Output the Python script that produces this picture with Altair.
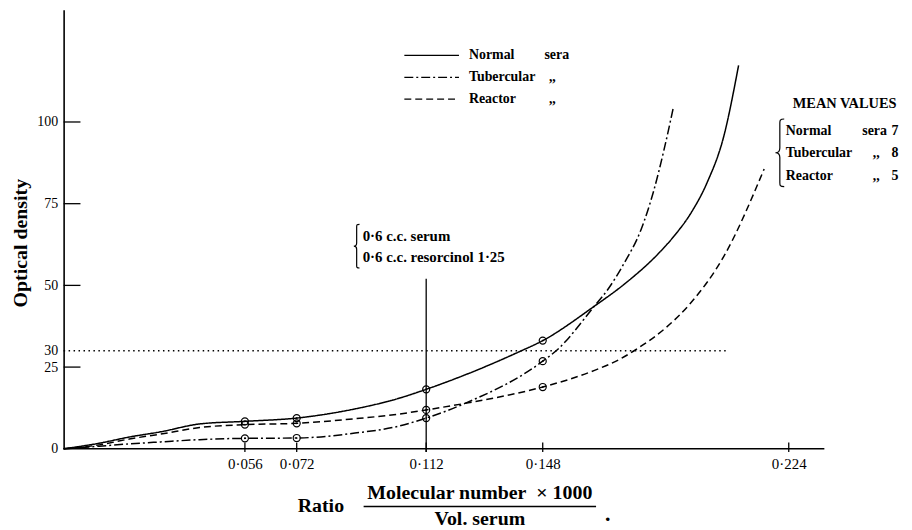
import altair as alt
import pandas as pd

FONT = "Liberation Serif"

# ---- data ----
series_names = ["Normal", "Tubercular", "Reactor"]

normal_x = [0, 0.011, 0.0203, 0.03, 0.042, 0.056, 0.072, 0.09, 0.1034, 0.112, 0.1403, 0.148,
            0.1639, 0.1731, 0.1834, 0.1885, 0.1937, 0.1988, 0.2039, 0.2085]
normal_y = [0, 1.7, 3.6, 5.2, 7.6, 8.4, 9.4, 12.2, 15.4, 18.2, 29.5, 33.1,
            43.6, 50.3, 59.4, 65.0, 72.0, 81.5, 95.5, 117.3]

tub_x = [0, 0.011, 0.0203, 0.03, 0.042, 0.056, 0.072, 0.09, 0.1034, 0.112, 0.124, 0.148,
         0.1526, 0.1639, 0.168, 0.1731, 0.1783, 0.1823, 0.1854, 0.1883]
tub_y = [0, 0.8, 1.5, 2.1, 2.8, 3.2, 3.3, 4.8, 6.9, 9.4, 13.9, 26.8,
         30.4, 43.6, 48.6, 56.7, 66.9, 79, 91.2, 104.2]

reac_x = [0, 0.011, 0.0203, 0.03, 0.042, 0.056, 0.072, 0.09, 0.1034, 0.112, 0.124, 0.148,
          0.156, 0.164, 0.172, 0.177, 0.186, 0.1937, 0.2039, 0.2164]
reac_y = [0, 1.2, 3.0, 4.5, 6.5, 7.4, 7.8, 9.2, 10.6, 11.9, 13.9, 18.9,
          21.2, 24.0, 27.5, 30.5, 37.0, 44.6, 58.8, 85.6]

marker_x = [0.056, 0.072, 0.112, 0.148]
normal_m = [8.4, 9.4, 18.2, 33.1]
tub_m = [3.2, 3.3, 9.4, 26.8]
reac_m = [7.4, 7.8, 11.9, 18.9]

x_ticks = [0.056, 0.072, 0.112, 0.148, 0.224]
y_labels = [0, 25, 30, 50, 75, 100]
y_ticks = [25, 50, 75, 100]
ref_level = 30
ref_level_end = 0.205
x_axis_end = 0.235
vline_x = 0.112
vline_top = 52

mean_values = ["7", "8", "5"]

# ---- tables ----
rows = []
for name, xs_, ys_ in [("Normal", normal_x, normal_y), ("Tubercular", tub_x, tub_y),
                       ("Reactor", reac_x, reac_y)]:
    rows += [{"series": name, "x": a, "y": b} for a, b in zip(xs_, ys_)]
curves = pd.DataFrame(rows)

mrows = []
for name, ms in [("Normal", normal_m), ("Tubercular", tub_m), ("Reactor", reac_m)]:
    mrows += [{"series": name, "x": a, "y": b} for a, b in zip(marker_x, ms)]
markers = pd.DataFrame(mrows)

dash_range = [[1, 0], [9, 3, 2, 3], [7, 4]]

xs = alt.Scale(domain=[0, 0.255], nice=False, zero=False)
ys = alt.Scale(domain=[0, 134.35], nice=False, zero=False)

x_axis = alt.Axis(values=x_ticks, labelExpr="replace(format(datum.value, '.3f'), '.', '·')",
                  ticks=False, domain=False, grid=False, labelFont=FONT, labelFontSize=15,
                  labelColor="black", labelPadding=8, title=None)
y_axis = alt.Axis(values=y_labels, ticks=False, domain=True, domainColor="black",
                  domainWidth=1.6, grid=False, labelFont=FONT, labelFontSize=14,
                  labelColor="black", labelPadding=6, labelOverlap=False, title=None)

X = alt.X("x:Q", scale=xs, axis=x_axis)
Y = alt.Y("y:Q", scale=ys, axis=y_axis)

lines = alt.Chart(curves).mark_line(color="black", strokeWidth=1.5, interpolate="monotone").encode(
    x=X, y=Y,
    strokeDash=alt.StrokeDash("series:N", scale=alt.Scale(domain=series_names, range=dash_range),
                              legend=None),
    detail="series:N",
)

circles = alt.Chart(markers).mark_point(shape="circle", filled=False, size=50, color="black",
                                        strokeWidth=1.2, opacity=1).encode(x=X, y=Y)
dots = alt.Chart(markers).mark_point(shape="circle", filled=True, size=3, color="black",
                                     opacity=1).encode(x=X, y=Y)

xaxis_line = alt.Chart(pd.DataFrame({"x": [0], "x2": [x_axis_end], "y": [0]})).mark_rule(
    color="black", strokeWidth=1.6).encode(x=X, x2="x2:Q", y=Y)

xtick_marks = alt.Chart(pd.DataFrame({"x": x_ticks, "y": [-1.0] * len(x_ticks),
                                      "y2": [1.9] * len(x_ticks)})).mark_rule(
    color="black", strokeWidth=1.3).encode(x=X, y=Y, y2="y2:Q")

ytick_marks = alt.Chart(pd.DataFrame({"y": y_ticks, "x": [0] * len(y_ticks),
                                      "x2": [0.0052] * len(y_ticks)})).mark_rule(
    color="black", strokeWidth=1.3).encode(x=X, x2="x2:Q", y=Y)

dotted = alt.Chart(pd.DataFrame({"x": [0], "x2": [ref_level_end], "y": [ref_level]})).mark_rule(
    color="black", strokeWidth=1.3, strokeDash=[1.5, 3.5]).encode(x=X, x2="x2:Q", y=Y)

vline = alt.Chart(pd.DataFrame({"x": [vline_x], "y": [-1.0], "y2": [vline_top]})).mark_rule(
    color="black", strokeWidth=1.3).encode(x=X, y=Y, y2="y2:Q")


def label(text, px, py, size=14, weight="bold", align="left", angle=0, baseline="middle"):
    kw = dict(font=FONT, fontSize=size, fontWeight=weight, align=align, baseline=baseline,
              color="black")
    if angle:
        kw["angle"] = angle
    return alt.Chart(pd.DataFrame({"t": [text]})).mark_text(**kw).encode(
        x=alt.value(px), y=alt.value(py), text="t:N")


def hrule(px1, px2, py, dash=None, width=1.3):
    kw = dict(color="black", strokeWidth=width)
    if dash:
        kw["strokeDash"] = dash
    return alt.Chart(pd.DataFrame({"a": [0]})).mark_rule(**kw).encode(
        x=alt.value(px1), x2=alt.value(px2), y=alt.value(py))


BRACE = ("M 0.13 -1 C 0 -1 0 -0.96 0 -0.88 L 0 -0.14 C 0 -0.05 -0.04 0 -0.13 0 "
         "C -0.04 0 0 0.05 0 0.14 L 0 0.88 C 0 0.96 0 1 0.13 1")


def brace(px, py, h):
    return alt.Chart(pd.DataFrame({"a": [0]})).mark_point(
        shape=BRACE, filled=False, color="black", strokeWidth=1.2, size=h * h, opacity=1).encode(
        x=alt.value(px), y=alt.value(py))


# legend (top centre)
legend_rows = [46, 68, 90]
legend_layers = []
for (name, tail), py, dash in zip([("Normal", "sera"), ("Tubercular", ",,"), ("Reactor", ",,")],
                                  legend_rows, dash_range):
    legend_layers.append(hrule(343, 398, py, dash if dash != [1, 0] else None))
    legend_layers.append(label(name, 408, py))
    legend_layers.append(label(tail, 492 if tail == ",," else 484, py,
                               align="center" if tail == ",," else "left"))

# mean values (right)
mean_layers = [label("MEAN VALUES", 734, 95, size=14.5)]
mean_layers.append(brace(721, 144, 68))
for (name, tail), py, v in zip([("Normal", "sera"), ("Tubercular", ",,"), ("Reactor", ",,")],
                               [122, 144, 167], mean_values):
    mean_layers.append(label(name, 727, py))
    if tail == "sera":
        mean_layers.append(label(tail, 804, py))
    else:
        mean_layers.append(label(tail, 818, py, align="center"))
    mean_layers.append(label(v, 837, py, align="center"))

# annotation at 0.112
annot_layers = [brace(295, 238, 44),
                label("0·6 c.c. serum", 301, 228, size=15),
                label("0·6 c.c. resorcinol 1·25", 301, 249, size=15)]

# axis titles
title_layers = [
    label("Optical density", -43, 235, size=20, angle=270, align="center"),
    label("Ratio", 259, 500, size=20, align="center"),
    label("Molecular number\u00a0\u00a0×\u00a01000", 419, 487, size=20, align="center"),
    hrule(302, 536, 500, width=1.5),
    label("Vol. serum", 419, 513, size=20, align="center"),
    label(".", 545, 508, size=22),
]

chart = alt.layer(
    lines, dotted, vline, xaxis_line, xtick_marks, ytick_marks, circles, dots,
    *legend_layers, *mean_layers, *annot_layers, *title_layers,
).properties(
    width=831, height=442,
    padding={"left": 56, "top": 0, "right": 15, "bottom": 78},
    autosize=alt.AutoSizeParams(type="none"),
).configure_view(stroke=None)

chart.save("out.html", embed_options={"renderer": "svg", "actions": False})
